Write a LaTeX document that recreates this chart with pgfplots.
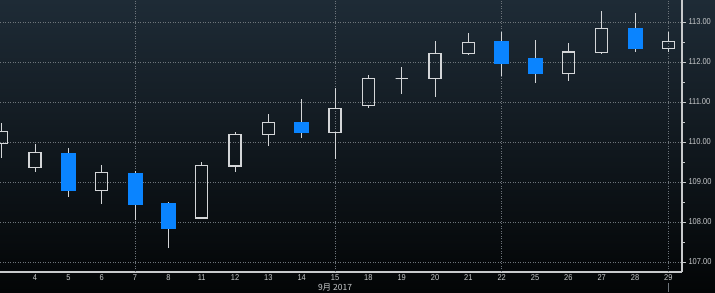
\documentclass[border=0pt]{standalone}
\usepackage{fontspec}
\setmainfont{Liberation Sans}[FakeStretch=0.88]
\newfontfamily\cjk{Noto Sans CJK SC}
\usepackage{pgfplots}
\pgfplotsset{compat=1.18}
\usepgfplotslibrary{statistics}
\definecolor{bgtop}{HTML}{1E2B36}
\definecolor{bgbot}{HTML}{030506}
\definecolor{cblue}{HTML}{0A84FF}
\definecolor{cwhite}{HTML}{D4D6D8}
\definecolor{gridc}{HTML}{6E757B}
\definecolor{txt}{HTML}{C8CACC}
\pgfplotsset{
  upc/.style={draw=cwhite, line width=1.2pt, fill=none,
    boxplot/box extend=0.36,
    boxplot/every whisker/.style={draw=cwhite, line width=1pt},
    boxplot/every median/.style={draw=cwhite, line width=1.2pt}},
  dnc/.style={draw=cblue, fill=cblue, line width=0.6pt,
    boxplot/box extend=0.42,
    boxplot/every whisker/.style={draw=cwhite, line width=1pt},
    boxplot/every median/.style={draw=cblue}},
}
% #1 position, #2 low, #3 body bottom, #4 body top, #5 high, #6 style
\newcommand{\candle}[6]{\addplot[boxplot prepared={draw direction=y, draw position=#1, lower whisker=#2, lower quartile=#3, median=#3, upper quartile=#4, upper whisker=#5, whisker extend=0}, #6] coordinates {};}
\begin{document}
\begin{tikzpicture}
\shade[top color=bgtop, bottom color=bgbot] (0,0) rectangle (715pt,292pt);
\begin{axis}[
  at={(0pt,20pt)}, anchor=south west,
  scale only axis, width=682pt, height=272pt,
  xmin=-0.05, xmax=20.41, ymin=106.75, ymax=113.55,
  axis x line*=bottom, axis y line*=right,
  axis line style={draw=txt, line width=1.1pt},
  xtick={1,...,20},
  xticklabels={4,5,6,7,8,11,12,13,14,15,18,19,20,21,22,25,26,27,28,29},
  x tick style={draw=none},
  ytick={107,108,109,110,111,112,113},
  minor y tick num=1,
  y tick style={draw=txt, line width=0.8pt},
  major tick length=4pt, minor tick length=2.5pt,
  tick align=outside,
  ymajorgrids,
  major grid style={draw=gridc, line width=0.6pt, dash pattern=on 1pt off 1.5pt},
  extra x ticks={4,10,15,20},
  extra x tick labels={},
  extra x tick style={grid=major, major tick length=0pt},
  /pgf/number format/assume math mode=true,
  y tick label style={xshift=-1pt, /pgf/number format/.cd, fixed, fixed zerofill, precision=2, /tikz/.cd},
  x tick label style={yshift=5pt},
  tick label style={font=\fontsize{8.5}{10}\selectfont, text=txt},
]
\candle{0}{109.59}{109.97}{110.26}{110.48}{upc}
\candle{1}{109.24}{109.36}{109.73}{109.95}{upc}
\candle{2}{108.63}{108.80}{109.73}{109.86}{dnc}
\candle{3}{108.46}{108.79}{109.23}{109.43}{upc}
\candle{4}{108.05}{108.45}{109.23}{109.28}{dnc}
\candle{5}{107.34}{107.83}{108.46}{108.51}{dnc}
\candle{6}{108.08}{108.10}{109.41}{109.51}{upc}
\candle{7}{109.24}{109.40}{110.19}{110.25}{upc}
\candle{8}{109.91}{110.18}{110.49}{110.70}{upc}
\candle{9}{110.09}{110.24}{110.49}{111.07}{dnc}
\candle{10}{109.57}{110.24}{110.84}{111.34}{upc}
\candle{11}{110.84}{110.91}{111.58}{111.68}{upc}
\candle{12}{111.20}{111.58}{111.58}{111.88}{upc}
\candle{13}{111.12}{111.58}{112.22}{112.53}{upc}
\candle{14}{112.18}{112.22}{112.48}{112.72}{upc}
\candle{15}{111.65}{111.98}{112.51}{112.76}{dnc}
\candle{16}{111.48}{111.73}{112.09}{112.54}{dnc}
\candle{17}{111.52}{111.72}{112.25}{112.48}{upc}
\candle{18}{112.22}{112.23}{112.84}{113.28}{upc}
\candle{19}{112.26}{112.34}{112.84}{113.22}{dnc}
\candle{20}{112.24}{112.34}{112.51}{112.74}{upc}
\coordinate (m) at (axis cs:10,106.75);
\coordinate (e) at (axis cs:20,106.75);
\end{axis}
\node[text=txt, font=\cjk\fontsize{8.5}{10}\selectfont, yshift=-15.3pt] at (m) {9月 2017};
\draw[gridc, line width=0.6pt] ([yshift=-11pt]e) -- ([yshift=-20pt]e);
\pgfresetboundingbox
\useasboundingbox (0,0) rectangle (715pt,292pt);
\end{tikzpicture}
\end{document}
